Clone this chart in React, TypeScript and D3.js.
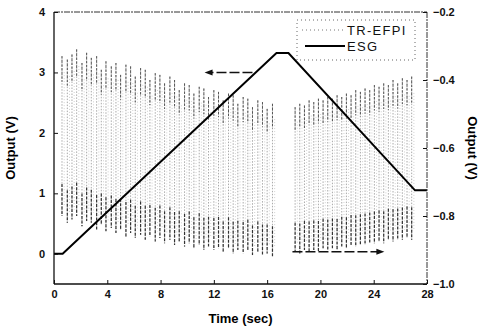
import { useRef, useEffect } from 'react';
import * as d3 from 'd3';

// ESG output (left axis, V) vs time (s)
const esgTime = [0, 0.65, 16.7, 17.6, 27.1, 28];
const esgValue = [0, 0, 3.32, 3.32, 1.05, 1.05];

// TR-EFPI fringes (right axis, V): one vertical stroke per fringe, first run
const efpiTime1 = [0.6, 1.0, 1.35, 1.7, 2.1, 2.45, 2.8, 3.2, 3.55, 3.9, 4.3, 4.65, 5.0, 5.4, 5.75,
  6.1, 6.5, 6.85, 7.2, 7.6, 7.95, 8.3, 8.7, 9.05, 9.4, 9.8, 10.15, 10.5, 10.9, 11.25, 11.6, 12.0,
  12.35, 12.7, 13.1, 13.45, 13.8, 14.2, 14.55, 14.9, 15.3, 15.65, 16.0, 16.4];
const efpiTop1 = [-0.33, -0.34, -0.325, -0.31, -0.35, -0.32, -0.335, -0.33, -0.37, -0.345, -0.36,
  -0.35, -0.385, -0.355, -0.36, -0.39, -0.365, -0.37, -0.4, -0.38, -0.385, -0.41, -0.39, -0.4, -0.43,
  -0.41, -0.415, -0.44, -0.42, -0.425, -0.45, -0.43, -0.435, -0.46, -0.44, -0.445, -0.47, -0.45,
  -0.455, -0.48, -0.46, -0.465, -0.485, -0.47];
const efpiBottom1 = [-0.8, -0.82, -0.81, -0.8, -0.83, -0.815, -0.82, -0.84, -0.825, -0.845, -0.835,
  -0.85, -0.84, -0.86, -0.85, -0.865, -0.855, -0.87, -0.86, -0.875, -0.865, -0.88, -0.87, -0.885,
  -0.875, -0.89, -0.88, -0.895, -0.885, -0.9, -0.89, -0.9, -0.895, -0.905, -0.895, -0.91, -0.9,
  -0.91, -0.9, -0.915, -0.905, -0.915, -0.91, -0.92];

// second run, after the peak
const efpiTime2 = [18.1, 18.45, 18.8, 19.15, 19.5, 19.85, 20.2, 20.55, 20.9, 21.25, 21.6, 21.95,
  22.3, 22.65, 23.0, 23.35, 23.7, 24.05, 24.4, 24.75, 25.1, 25.45, 25.8, 26.15, 26.5, 26.85];
const efpiTop2 = [-0.48, -0.47, -0.475, -0.46, -0.465, -0.455, -0.46, -0.45, -0.455, -0.445, -0.45,
  -0.44, -0.445, -0.43, -0.435, -0.425, -0.43, -0.415, -0.42, -0.41, -0.415, -0.4, -0.41, -0.395,
  -0.4, -0.39];
const efpiBottom2 = [-0.905, -0.91, -0.9, -0.905, -0.9, -0.905, -0.895, -0.9, -0.895, -0.9, -0.89,
  -0.895, -0.885, -0.89, -0.885, -0.885, -0.88, -0.88, -0.875, -0.88, -0.87, -0.875, -0.87, -0.87,
  -0.865, -0.87];

const xTicks = [0, 4, 8, 12, 16, 20, 24, 28];
const yLeftTicks = [0, 1, 2, 3, 4];
const yRightTicks = [-1.0, -0.8, -0.6, -0.4, -0.2];

// arrows pointing to the axis each curve belongs to
const arrowLeft = { t0: 14.9, t1: 11.3, v: 3.0 };
const arrowRight = { t0: 17.9, t1: 24.8, v: -0.905 };

export default function App() {
  const ref = useRef<SVGSVGElement>(null);

  useEffect(() => {
    const w = 485, h = 331;
    const m = { l: 54, r: 58, t: 12, b: 47 };

    const svg = d3.select(ref.current)
      .attr('width', w)
      .attr('height', h)
      .style('font-family', '"Liberation Sans", Arial, sans-serif');
    svg.selectAll('*').remove();

    const x = d3.scaleLinear().domain([0, 28]).range([m.l, w - m.r]);
    const yL = d3.scaleLinear().domain([-0.5, 4]).range([h - m.b, m.t]);
    const yR = d3.scaleLinear().domain([-1.0, -0.2]).range([h - m.b, m.t]);

    svg.append('rect').attr('width', w).attr('height', h).attr('fill', '#fff');

    /* TR-EFPI strokes */
    const strokes = [
      ...efpiTime1.map((t, i) => ({ t, top: efpiTop1[i], bot: efpiBottom1[i] })),
      ...efpiTime2.map((t, i) => ({ t, top: efpiTop2[i], bot: efpiBottom2[i] })),
    ];
    const g = svg.append('g');
    strokes.forEach(s => {
      const xx = x(s.t), y0 = yR(s.top), y1 = yR(s.bot);
      const span = y1 - y0;
      g.append('line')
        .attr('x1', xx).attr('x2', xx).attr('y1', y0).attr('y2', y1)
        .attr('stroke', '#aaa').attr('stroke-width', 1)
        .attr('stroke-dasharray', '1.5,1.5');
      g.append('line')
        .attr('x1', xx + 2.2).attr('x2', xx + 2.2).attr('y1', y0 + span * 0.1).attr('y2', y1 - span * 0.06)
        .attr('stroke', '#d0d0d0').attr('stroke-width', 1)
        .attr('stroke-dasharray', '1,2');
      g.append('line')
        .attr('x1', xx).attr('x2', xx).attr('y1', y0).attr('y2', y0 + span * 0.16)
        .attr('stroke', '#555').attr('stroke-width', 1)
        .attr('stroke-dasharray', '2.5,1.5');
      g.append('line')
        .attr('x1', xx).attr('x2', xx).attr('y1', y1 - span * 0.2).attr('y2', y1)
        .attr('stroke', '#333').attr('stroke-width', 1.2)
        .attr('stroke-dasharray', '3,1.5');
    });

    /* ESG */
    const line = d3.line<number>()
      .x((_, i) => x(esgTime[i]))
      .y(d => yL(d));
    svg.append('path')
      .datum(esgValue)
      .attr('fill', 'none')
      .attr('stroke', '#000')
      .attr('stroke-width', 2)
      .attr('d', line);

    /* arrows */
    const arrow = (a: { t0: number; t1: number; v: number }, sc: d3.ScaleLinear<number, number>) => {
      const x0 = x(a.t0), x1 = x(a.t1), yy = sc(a.v);
      const dir = Math.sign(x1 - x0);
      svg.append('line')
        .attr('x1', x0).attr('x2', x1 - dir * 6).attr('y1', yy).attr('y2', yy)
        .attr('stroke', '#111').attr('stroke-width', 1.5)
        .attr('stroke-dasharray', '10,3');
      svg.append('path')
        .attr('d', `M${x1},${yy}L${x1 - dir * 8},${yy - 3}L${x1 - dir * 8},${yy + 3}Z`)
        .attr('fill', '#111');
    };
    arrow(arrowLeft, yL);
    arrow(arrowRight, yR);

    /* frame */
    const x0 = m.l, x1 = w - m.r, yT = m.t, yB = h - m.b;
    svg.append('line').attr('x1', x0).attr('x2', x1).attr('y1', yT).attr('y2', yT)
      .attr('stroke', '#333').attr('stroke-width', 1).attr('stroke-dasharray', '6,1,2,1');
    svg.append('line').attr('x1', x1).attr('x2', x1).attr('y1', yT).attr('y2', yB)
      .attr('stroke', '#333').attr('stroke-width', 1).attr('stroke-dasharray', '6,1,2,1');
    svg.append('line').attr('x1', x0).attr('x2', x0).attr('y1', yT).attr('y2', yB)
      .attr('stroke', '#111').attr('stroke-width', 1.3);
    svg.append('line').attr('x1', x0).attr('x2', x1).attr('y1', yB).attr('y2', yB)
      .attr('stroke', '#111').attr('stroke-width', 1.3);

    /* axes */
    const tickFont = (sel: d3.Selection<SVGGElement, unknown, null, undefined>) => {
      sel.select('.domain').remove();
      sel.selectAll('text').attr('font-size', 11).attr('font-weight', 700).attr('fill', '#111')
        .attr('font-family', '"Liberation Sans", Arial, sans-serif');
      sel.selectAll('line').attr('stroke', '#111');
    };
    svg.append('g')
      .attr('transform', `translate(0,${yB})`)
      .call(d3.axisTop(x).tickValues(xTicks).tickSize(4).tickPadding(-18).tickFormat(d3.format('d')))
      .call(tickFont);
    svg.append('g')
      .attr('transform', `translate(${x0},0)`)
      .call(d3.axisRight(yL).tickValues(yLeftTicks).tickSize(4).tickPadding(-13).tickFormat(d3.format('d')))
      .call(tickFont)
      .call(s => s.selectAll('text').attr('text-anchor', 'end'));
    svg.append('g')
      .attr('transform', `translate(${x1},0)`)
      .call(d3.axisLeft(yR).tickValues(yRightTicks).tickSize(4).tickPadding(-10).tickFormat(d3.format('.1f')))
      .call(tickFont)
      .call(s => s.selectAll('text').attr('text-anchor', 'start'));

    /* axis titles */
    svg.append('text')
      .attr('x', (x0 + x1) / 2).attr('y', 323)
      .attr('text-anchor', 'middle')
      .attr('font-size', 13).attr('font-weight', 700)
      .text('Time (sec)');
    svg.append('text')
      .attr('transform', `translate(15,${(yT + yB) / 2}) rotate(-90)`)
      .attr('text-anchor', 'middle')
      .attr('font-size', 13).attr('font-weight', 700)
      .text('Output (V)');
    svg.append('text')
      .attr('transform', `translate(468,${(yT + yB) / 2}) rotate(90)`)
      .attr('text-anchor', 'middle')
      .attr('font-size', 13).attr('font-weight', 700)
      .text('Output (V)');

    /* legend */
    const lg = svg.append('g');
    lg.append('rect')
      .attr('x', 297).attr('y', 20).attr('width', 118).attr('height', 40)
      .attr('fill', '#fff').attr('stroke', '#666').attr('stroke-width', 1)
      .attr('stroke-dasharray', '1,3');
    lg.append('line').attr('x1', 302).attr('x2', 344).attr('y1', 30).attr('y2', 30)
      .attr('stroke', '#777').attr('stroke-width', 1).attr('stroke-dasharray', '1,3');
    lg.append('line').attr('x1', 305).attr('x2', 345).attr('y1', 46).attr('y2', 46)
      .attr('stroke', '#000').attr('stroke-width', 2);
    lg.append('text').attr('x', 347).attr('y', 35).attr('font-size', 13).attr('fill', '#111')
      .attr('letter-spacing', 1.3).text('TR-EFPI');
    lg.append('text').attr('x', 347).attr('y', 51).attr('font-size', 13).attr('fill', '#111')
      .attr('letter-spacing', 1.3).text('ESG');
  }, []);

  return <svg ref={ref} style={{ position: 'absolute', left: 0, top: 0 }}></svg>;
}
